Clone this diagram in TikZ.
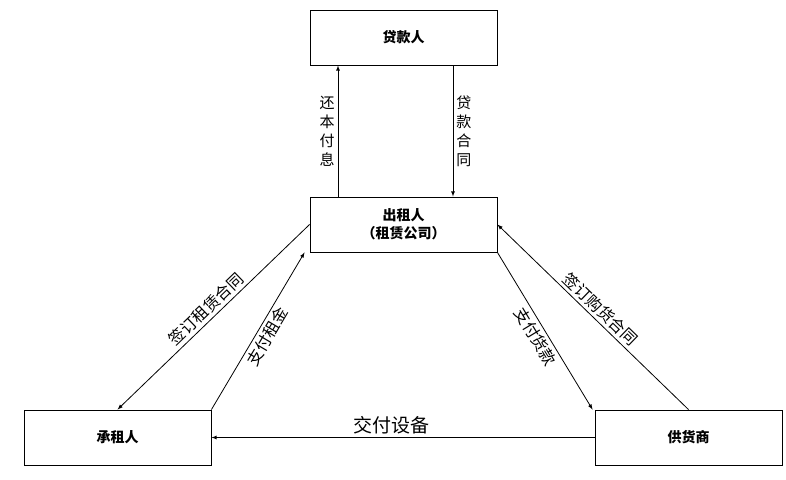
\documentclass[tikz,border=0pt]{standalone}
\usepackage{fontspec}
\setmainfont{Noto Sans CJK SC}
\usetikzlibrary{arrows}
\tikzstyle{party}=[draw,line width=0.9pt,minimum width=187pt,minimum height=55pt,inner sep=0pt,font=\bfseries\fontsize{14}{18}\selectfont,align=center]
\tikzstyle{flow} = [draw,line width=0.8pt,->,>=latex]
\tikzstyle{tag} = [font=\fontsize{16}{18}\selectfont,inner sep=3pt]
\tikzstyle{vtag} = [font=\fontsize{15}{19}\selectfont,align=center,inner sep=3pt]

\begin{document}
\begin{tikzpicture}[x=1pt,y=-1pt]
    \useasboundingbox (0,0) rectangle (786,479);
    % draw the parties
    \foreach \pos/\name/\text in {{(403.5,37.5)/lender/贷款人}, {(403.5,224.5)/lessor/出租人\\（租赁公司）},
                                  {(117.5,437.5)/lessee/承租人}, {(688.5,437.5)/supplier/供货商}}
        \node[party] (\name) at \pos {\text};
    % loans between lender and lessor
    \path[flow] ([xshift=-65.5pt] lessor.north) -- node[vtag,left] {还\\本\\付\\息} ([xshift=-65.5pt] lender.south);
    \path[flow] ([xshift=49.5pt] lender.south) -- node[vtag,right] {贷\\款\\合\\同} ([xshift=49.5pt] lessor.north);
    % contracts and payments
    \path[flow] (lessor.west) -- node[tag,sloped,above] {签订租赁合同} (lessee.north);
    \path[flow] (lessee.north east) -- node[tag,sloped,below] {支付租金} ([xshift=-5pt] lessor.south west);
    \path[flow] (lessor.south east) -- node[tag,sloped,below] {支付货款} ([xshift=-2pt] supplier.north west);
    \path[flow] (supplier.north) -- node[tag,sloped,above] {签订购货合同} (lessor.east);
    \path[flow] (supplier.west) -- node[tag,above,font=\fontsize{19}{22}\selectfont,pos=0.53] {交付设备} (lessee.east);
\end{tikzpicture}
\end{document}
